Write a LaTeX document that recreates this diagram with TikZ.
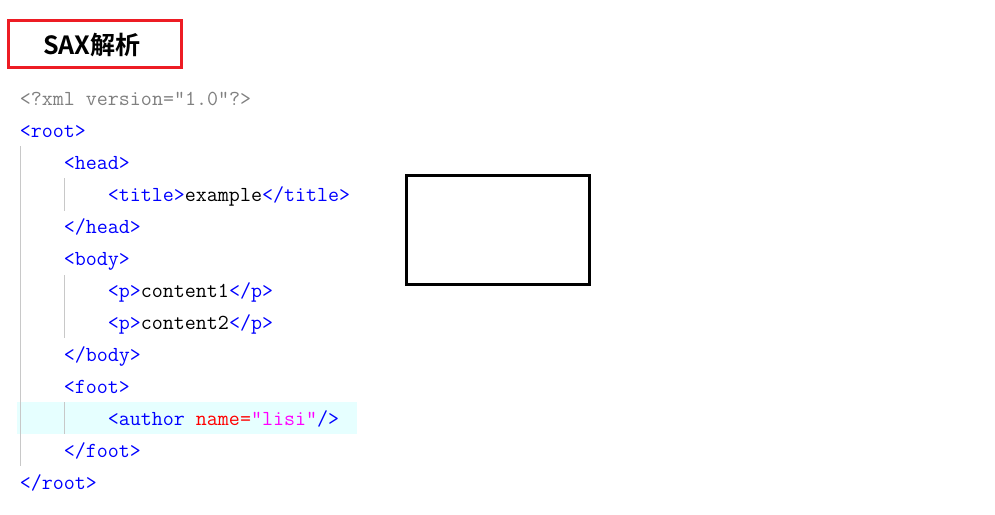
\documentclass[tikz,border=0pt]{standalone}
\usepackage{fontspec}
\newfontfamily\cjkbold{Noto Sans CJK SC Bold}
\definecolor{tagblue}{RGB}{0,0,255}
\definecolor{declgray}{RGB}{128,128,128}
\definecolor{attrred}{RGB}{255,0,0}
\definecolor{valmag}{RGB}{255,0,255}
\definecolor{boxred}{RGB}{237,28,36}
\definecolor{guidegray}{RGB}{200,200,200}
\definecolor{hilite}{RGB}{230,255,255}
\newcommand{\tg}[1]{\textcolor{tagblue}{#1}}
\begin{document}
\begin{tikzpicture}[x=0.75pt,y=-0.75pt,
  code/.style={anchor=base west,inner sep=0pt,font=\fontsize{16.05pt}{18pt}\ttfamily,text=black},
  guide/.style={draw=guidegray,line width=0.75pt},
  titlebox/.style={draw=boxred,line width=2.25pt},
  emptybox/.style={draw=black,line width=2.25pt}]
\useasboundingbox[fill=white] (0,0) rectangle (995,514);
% highlight row
\fill[hilite] (17,402) rectangle (357,434);
% title
\draw[titlebox] (8.5,20.5) rectangle (181.5,67.5);
\node[anchor=base west,inner sep=0pt,font=\cjkbold\fontsize{18.8pt}{20pt}\selectfont] (title) at (43,54) {SAX解析};
% guides
\draw[guide] (20.5,146) -- (20.5,466);
\draw[guide] (64.5,178) -- (64.5,211);
\draw[guide] (64.5,275) -- (64.5,338);
\draw[guide] (64.5,402) -- (64.5,434);
% code lines
\node[code] (l1) at (19.5,105) {\textcolor{declgray}{<?xml version="1.0"?>}};
\node[code] (l2) at (19.5,137) {\tg{<root>}};
\node[code] (l3) at (63.5,169) {\tg{<head>}};
\node[code] (l4) at (107.5,201) {\tg{<title>}example\tg{</title>}};
\node[code] (l5) at (63.5,233) {\tg{</head>}};
\node[code] (l6) at (63.5,265) {\tg{<body>}};
\node[code] (l7) at (107.5,297) {\tg{<p>}content1\tg{</p>}};
\node[code] (l8) at (107.5,329) {\tg{<p>}content2\tg{</p>}};
\node[code] (l9) at (63.5,361) {\tg{</body>}};
\node[code] (l10) at (63.5,393) {\tg{<foot>}};
\node[code] (l11) at (107.5,425) {\tg{<author }\textcolor{attrred}{name=}\textcolor{valmag}{"lisi"}\tg{/>}};
\node[code] (l12) at (63.5,457) {\tg{</foot>}};
\node[code] (l13) at (19.5,489) {\tg{</root>}};
% empty box
\draw[emptybox] (406.5,175.8) rectangle (589.5,284.5);
\end{tikzpicture}
\end{document}
